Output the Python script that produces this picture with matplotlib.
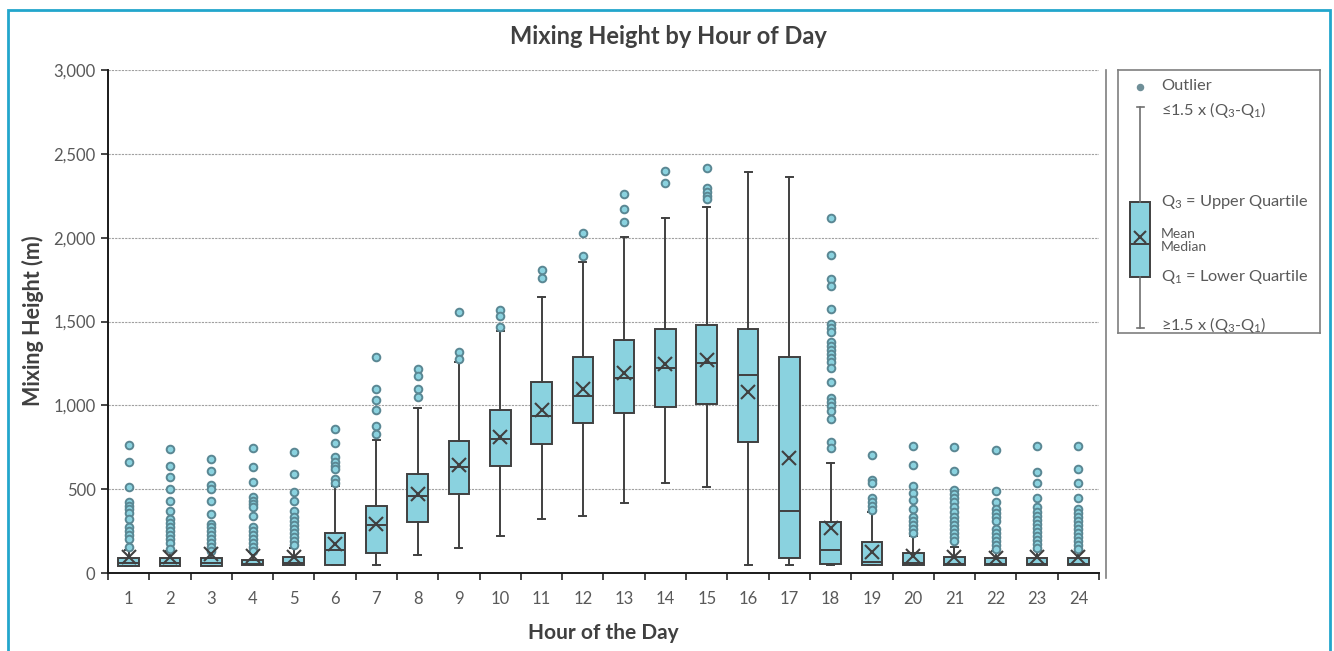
import matplotlib
matplotlib.use("Agg")
import matplotlib.pyplot as plt
from matplotlib.lines import Line2D
from matplotlib.patches import Rectangle

plt.rcParams['font.family'] = ['Lato', 'DejaVu Sans']

# data (metres)
hours = list(range(1, 25))
q1 = [44, 44, 44, 46, 46, 48, 121, 306, 469, 638, 769, 895,
      952, 992, 1006, 783, 88, 54, 48, 48, 48, 48, 48, 48]
med = [60, 60, 60, 55, 62, 137, 284, 461, 634, 801, 938, 1056,
       1161, 1221, 1251, 1183, 368, 137, 67, 62, 55, 55, 55, 55]
q3 = [88, 88, 88, 78, 97, 240, 401, 589, 785, 970, 1141, 1286,
      1390, 1455, 1479, 1455, 1286, 306, 183, 121, 97, 88, 88, 88]
mean = [97, 95, 112, 100, 97, 173, 290, 469, 646, 813, 970, 1096,
        1191, 1245, 1270, 1081, 684, 270, 127, 103, 97, 92, 95, 95]
whislo = [44, 44, 44, 46, 46, 48, 48, 107, 151, 219, 322, 342,
          417, 535, 513, 48, 48, 48, 48, 48, 48, 48, 48, 48]
whishi = [140, 130, 125, 125, 150, 520, 791, 986, 1260, 1445, 1646, 1855,
          2002, 2119, 2185, 2392, 2362, 654, 362, 221, 157, 130, 135, 130]
outliers = [
    [763, 660, 511, 425, 401, 380, 356, 324, 276, 252, 228, 204, 157],
    [740, 636, 571, 499, 431, 372, 324, 300, 276, 252, 228, 204, 181, 143],
    [682, 608, 523, 499, 431, 350, 294, 276, 252, 228, 204, 181, 157, 133],
    [747, 630, 541, 455, 431, 411, 392, 342, 276, 252, 228, 204, 181, 157, 133],
    [720, 592, 481, 431, 372, 336, 312, 288, 264, 240, 216, 193, 169],
    [859, 777, 690, 664, 640, 618, 562, 535],
    [1288, 1096, 1030, 970, 875, 831],
    [1217, 1175, 1096, 1052],
    [1558, 1316, 1275],
    [1570, 1533, 1465],
    [1807, 1760],
    [2030, 1890],
    [2260, 2171, 2092],
    [2399, 2326],
    [2415, 2298, 2274, 2250, 2229],
    [],
    [],
    [2119, 1897, 1753, 1713, 1574, 1487, 1463, 1439, 1379, 1356, 1332, 1308,
     1284, 1260, 1221, 1141, 1046, 1022, 998, 966, 918, 783, 744],
    [704, 555, 535, 449, 425, 401, 377],
    [757, 644, 521, 475, 434, 380, 336, 312, 288, 264, 240],
    [749, 608, 495, 469, 445, 421, 395, 366, 336, 312, 288, 264, 240, 216, 193],
    [733, 489, 425, 380, 360, 336, 312, 261, 237, 213, 189, 165, 141],
    [757, 600, 535, 445, 395, 366, 340, 316, 292, 268, 245, 221, 197, 173, 149],
    [757, 622, 535, 445, 380, 356, 332, 308, 284, 260, 237, 213, 189, 165, 141],
]

box_fill = '#8ad2df'
edge = '#404040'
flier_edge = '#5a8793'
text_dark = '#404040'
text_grey = '#595959'

W, H = 1334, 651
fig = plt.figure(figsize=(W / 100, H / 100), dpi=100)

# outer blue frame
fig.add_artist(Rectangle((8 / W, -0.05), 1322 / W, 1.05 - 10 / H,
                         transform=fig.transFigure, fill=False,
                         edgecolor='#22a6cc', linewidth=2))

ax = fig.add_axes([108 / W, 1 - 573 / H, (1099 - 108) / W, (573 - 70) / H])

stats = []
for i in range(len(hours)):
    stats.append(dict(med=med[i], q1=q1[i], q3=q3[i], mean=mean[i],
                      whislo=whislo[i], whishi=whishi[i], fliers=outliers[i]))

def draw_boxes(a, st, pos, width, capw, ms, lw=1.4, fc=box_fill, fe=flier_edge, fs=5.5):
    a.bxp(st, positions=pos, widths=width, capwidths=capw, patch_artist=True,
          showmeans=True, manage_ticks=False,
          boxprops=dict(facecolor=box_fill, edgecolor=edge, linewidth=1.4),
          medianprops=dict(color=edge, linewidth=1.4),
          whiskerprops=dict(color=edge, linewidth=lw),
          capprops=dict(color=edge, linewidth=lw),
          meanprops=dict(marker='x', markeredgecolor=edge, markersize=ms,
                         markeredgewidth=1.5),
          flierprops=dict(marker='o', markerfacecolor=fc,
                          markeredgecolor=fe, markersize=fs,
                          markeredgewidth=1.4))

draw_boxes(ax, stats, hours, 0.5, 0.17, 10)

ax.set_xlim(0.5, 24.5)
ax.set_ylim(0, 3000)
ax.set_yticks(range(0, 3001, 500))
ax.set_yticklabels([f'{v:,}' for v in range(0, 3001, 500)])
ax.set_xticks([h + 0.5 for h in range(0, 25)])
ax.set_xticklabels([])
ax.set_xticks(hours, minor=True)
ax.set_xticklabels([str(h) for h in hours], minor=True)
ax.tick_params(axis='x', which='major', length=5, width=1.2, color='#262626')
ax.tick_params(axis='x', which='minor', length=0, pad=13,
               labelsize=12, labelcolor=text_grey)
ax.tick_params(axis='y', length=5, width=1.2, color='#262626',
               labelsize=12, labelcolor=text_grey, pad=4)
ax.grid(axis='y', linestyle=(0, (2, 1)), color='#a0a0a0', linewidth=0.8)
ax.set_axisbelow(True)
for s in ['top', 'right']:
    ax.spines[s].set_visible(False)
for s in ['left', 'bottom']:
    ax.spines[s].set_color('#1a1a1a')
    ax.spines[s].set_linewidth(1.4)

# plot area right border
fig.add_artist(Line2D([1106 / W, 1106 / W], [1 - 578 / H, 1 - 70 / H],
                      transform=fig.transFigure, color='#7f7f7f', linewidth=1.2))

fig.text(668 / W, 1 - 37 / H, 'Mixing Height by Hour of Day', ha='center',
         va='center', fontsize=17, fontweight='bold', color=text_dark)
fig.text(33 / W, 1 - 321 / H, 'Mixing Height (m)', ha='center', va='center',
         rotation=90, fontsize=15.5, fontweight='bold', color=text_dark)
fig.text(603 / W, 1 - 633 / H, 'Hour of the Day', ha='center', va='center',
         fontsize=15, fontweight='bold', color=text_dark)

# legend key drawn as its own small box plot
lx0, lx1, ly0, ly1 = 1118, 1320, 70, 333
lax = fig.add_axes([lx0 / W, 1 - ly1 / H, (lx1 - lx0) / W, (ly1 - ly0) / H])
lax.set_xlim(0, lx1 - lx0)
lax.set_ylim(ly1 - ly0, 0)
lax.set_xticks([])
lax.set_yticks([])
for s in lax.spines.values():
    s.set_color('#7f7f7f')
    s.set_linewidth(1.2)
key = [dict(med=244 - ly0, q1=277 - ly0, q3=202 - ly0, mean=237 - ly0,
            whislo=328 - ly0, whishi=107 - ly0, fliers=[87 - ly0])]
draw_boxes(lax, key, [22], 20, 7, 9, lw=1.2, fc='#6f8f98', fe='#6f8f98', fs=4)
for ln in lax.lines[:4]:
    ln.set_color('#707070')

tx = 43
fs = 11.8
lax.text(tx, 86 - ly0, 'Outlier', va='center', fontsize=fs, color=text_grey)
lax.text(tx, 110 - ly0, r'≤1.5 x ($\mathregular{Q_3}$-$\mathregular{Q_1}$)',
         va='center', fontsize=fs, color=text_grey)
lax.text(tx, 202 - ly0, r'$\mathregular{Q_3}$ = Upper Quartile',
         va='center', fontsize=fs, color=text_grey)
lax.text(tx, 234 - ly0, 'Mean', va='center', fontsize=10, color=text_grey)
lax.text(tx, 247 - ly0, 'Median', va='center', fontsize=10, color=text_grey)
lax.text(tx, 277 - ly0, r'$\mathregular{Q_1}$ = Lower Quartile',
         va='center', fontsize=fs, color=text_grey)
lax.text(tx, 325 - ly0, r'≥1.5 x ($\mathregular{Q_3}$-$\mathregular{Q_1}$)',
         va='center', fontsize=fs, color=text_grey)

fig.savefig('out.png', dpi=100)
